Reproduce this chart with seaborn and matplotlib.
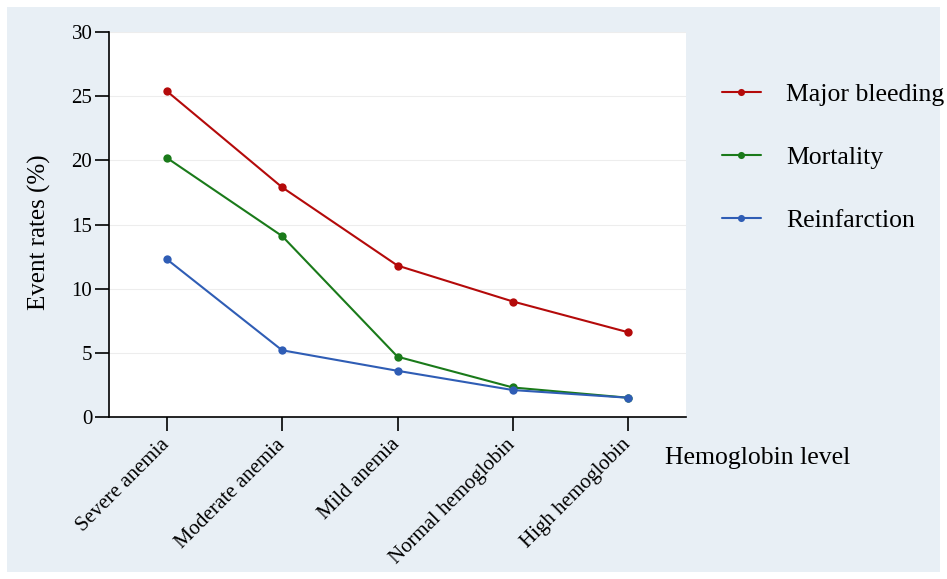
import pandas as pd
import matplotlib
import matplotlib.pyplot as plt
import seaborn as sns
from matplotlib.patches import Rectangle

matplotlib.use('Agg')

# 数据
categories = ['Severe anemia', 'Moderate anemia', 'Mild anemia', 'Normal hemoglobin', 'High hemoglobin']
major_bleeding = [25.4, 17.9, 11.8, 9.0, 6.6]
mortality = [20.2, 14.1, 4.7, 2.3, 1.5]
reinfarction = [12.3, 5.2, 3.6, 2.1, 1.5]
series_names = ['Major bleeding', 'Mortality', 'Reinfarction']
colors = ['#B40A0A', '#1A7A1A', '#2F5DB5']

df = pd.DataFrame({
    'level': categories * 3,
    'rate': major_bleeding + mortality + reinfarction,
    'event': [n for n in series_names for _ in categories],
})

sns.set_style('white')
plt.rcParams['font.family'] = ['Liberation Serif', 'DejaVu Serif']
plt.rcParams['text.color'] = 'black'
plt.rcParams['axes.labelcolor'] = 'black'

bg = '#E8EFF5'
fig = plt.figure(figsize=(9.47, 5.79), dpi=100, facecolor='white')
fig.patches.append(Rectangle((7 / 947, 7 / 579), 933 / 947, 565 / 579,
                             transform=fig.transFigure, facecolor=bg,
                             edgecolor='none', zorder=-1))
ax = fig.add_axes([109 / 947, 1 - 417 / 579, (686 - 109) / 947, (417 - 32) / 579])
ax.set_facecolor('white')

sns.lineplot(data=df, x='level', y='rate', hue='event', palette=colors,
             marker='o', markersize=6, markeredgewidth=0, linewidth=1.5,
             sort=False, ax=ax)

ax.set_xlim(-0.5, 4.5)
ax.set_ylim(0, 30)
ax.set_yticks(range(0, 31, 5))
ax.grid(axis='y', color='#EDEDED', linewidth=0.8)
ax.set_axisbelow(True)
for s in ['top', 'right']:
    ax.spines[s].set_visible(False)
for s in ['left', 'bottom']:
    ax.spines[s].set_color('black')
    ax.spines[s].set_linewidth(1.2)
ax.tick_params(axis='both', direction='out', length=10, width=1.2, colors='black',
               labelsize=15, left=True, bottom=True, pad=2)
ax.set_xticks(range(len(categories)))
ax.set_xticklabels(categories, rotation=45, ha='right', va='center',
                   rotation_mode='anchor')
ax.tick_params(axis='x', pad=8)
ax.set_xlabel('')
ax.set_ylabel('Event rates (%)', fontsize=18)
ax.yaxis.set_label_coords(-0.101, 0.48)

fig.text(665 / 947, 1 - 458 / 579, 'Hemoglobin level', fontsize=18.5, va='center', ha='left')

handles, labels = ax.get_legend_handles_labels()
ax.legend(handles, labels, loc='upper left', bbox_to_anchor=(722 / 947, 1 - 83 / 579),
          bbox_transform=fig.transFigure, borderpad=0, borderaxespad=0,
          frameon=False, fontsize=18.5, handlelength=1.5, handletextpad=1.0,
          labelspacing=1.55, markerscale=0.85)

plt.savefig('out.png', dpi=100, facecolor=fig.get_facecolor())
plt.close()
